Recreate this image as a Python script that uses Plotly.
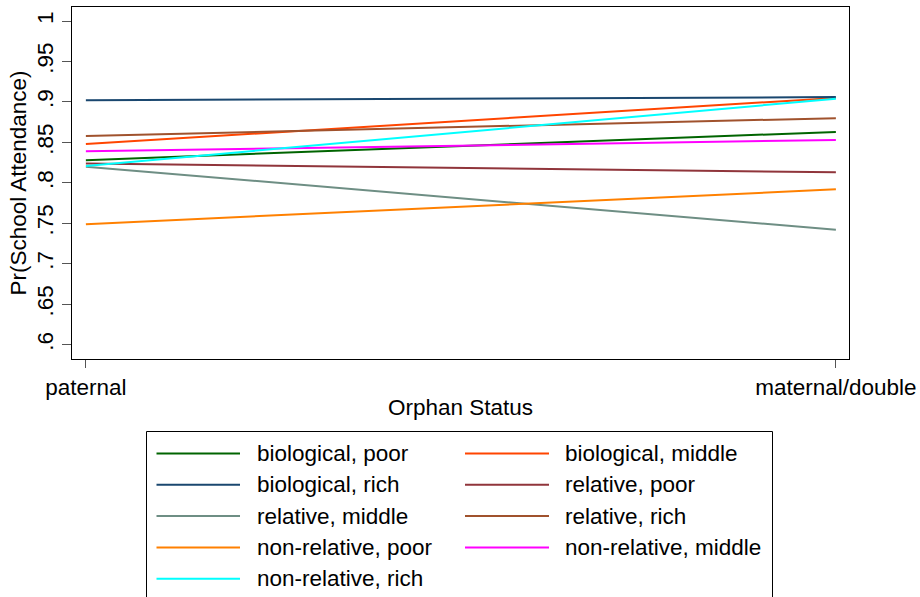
import plotly.graph_objects as go

categories = ["paternal", "maternal/double"]
x_pos = [0, 1]

series_names = [
    "biological, poor", "biological, middle",
    "biological, rich", "relative, poor",
    "relative, middle", "relative, rich",
    "non-relative, poor", "non-relative, middle",
    "non-relative, rich",
]
bio_poor = [0.828, 0.863]
bio_middle = [0.848, 0.905]
bio_rich = [0.902, 0.906]
rel_poor = [0.824, 0.813]
rel_middle = [0.820, 0.742]
rel_rich = [0.858, 0.880]
nonrel_poor = [0.749, 0.792]
nonrel_middle = [0.839, 0.853]
nonrel_rich = [0.821, 0.904]
series_values = [bio_poor, bio_middle, bio_rich, rel_poor, rel_middle,
                 rel_rich, nonrel_poor, nonrel_middle, nonrel_rich]
colors = ["#006400", "#ff4500", "#1a476f", "#90353b", "#6e8e84",
          "#a0522d", "#ff8000", "#ff00ff", "#00ffff"]

y_ticks = [0.6, 0.65, 0.7, 0.75, 0.8, 0.85, 0.9, 0.95, 1.0]
y_tick_labels = [".6", ".65", ".7", ".75", ".8", ".85", ".9", ".95", "1"]

FONT = "Liberation Sans, Arial, sans-serif"
FS = 22.5

W, H = 920, 597
ML, MR, MT, MB = 72, 71, 7, 238
PW = W - ML - MR
PH = H - MT - MB


def px_x(px):
    return (px - ML) / PW


def px_y(py):
    return (H - MB - py) / PH


fig = go.Figure()
for name, vals, col in zip(series_names, series_values, colors):
    fig.add_trace(go.Scatter(x=x_pos, y=vals, mode="lines", name=name,
                             line=dict(color=col, width=2), showlegend=False,
                             hoverinfo="skip"))

# legend drawn as a boxed two-column key
shapes = [dict(type="rect", xref="paper", yref="paper",
               x0=px_x(146.5), x1=px_x(772.5), y0=px_y(431.5), y1=px_y(640),
               line=dict(color="black", width=1), fillcolor="rgba(0,0,0,0)")]
annotations = []
col_line = [(156.5, 240), (465, 549)]
col_text = [255, 562.5]
row_y0, row_dy = 453.5, 31.3
for i, (name, col) in enumerate(zip(series_names, colors)):
    c, r = i % 2, i // 2
    yy = px_y(row_y0 + r * row_dy)
    shapes.append(dict(type="line", xref="paper", yref="paper",
                       x0=px_x(col_line[c][0]), x1=px_x(col_line[c][1]),
                       y0=yy, y1=yy, line=dict(color=col, width=2)))
    annotations.append(dict(xref="paper", yref="paper", x=px_x(col_text[c]),
                            y=yy, text=name, showarrow=False,
                            xanchor="left", yanchor="middle",
                            font=dict(family=FONT, size=FS, color="black")))

fig.update_layout(
    width=W, height=H,
    margin=dict(l=ML, r=MR, t=MT, b=MB),
    paper_bgcolor="white", plot_bgcolor="white",
    font=dict(family=FONT, size=FS, color="black"),
    showlegend=False,
    shapes=shapes, annotations=annotations,
)
fig.update_xaxes(
    range=[-0.0185, 1.0175], tickvals=x_pos, ticktext=categories,
    automargin=False,
    showgrid=False, zeroline=False,
    showline=True, linecolor="black", linewidth=1, mirror=True,
    ticks="outside", ticklen=8, tickcolor="#555555",
    tickfont=dict(size=FS),
    title=dict(text="Orphan Status", font=dict(size=FS), standoff=0),
)
fig.update_yaxes(
    range=[0.5824, 1.0173], tickvals=y_ticks, ticktext=y_tick_labels,
    tickangle=-90, automargin=False,
    showgrid=False, zeroline=False,
    showline=True, linecolor="black", linewidth=1, mirror=True,
    ticks="outside", ticklen=9, tickcolor="#555555",
    tickfont=dict(size=FS),
    title=dict(text="Pr(School Attendance)", font=dict(size=FS), standoff=0),
)

fig.write_html("out.html",
               config={"displayModeBar": False, "staticPlot": True},
               post_script="document.body.style.margin='0';"
                           "document.body.style.overflow='hidden';")
